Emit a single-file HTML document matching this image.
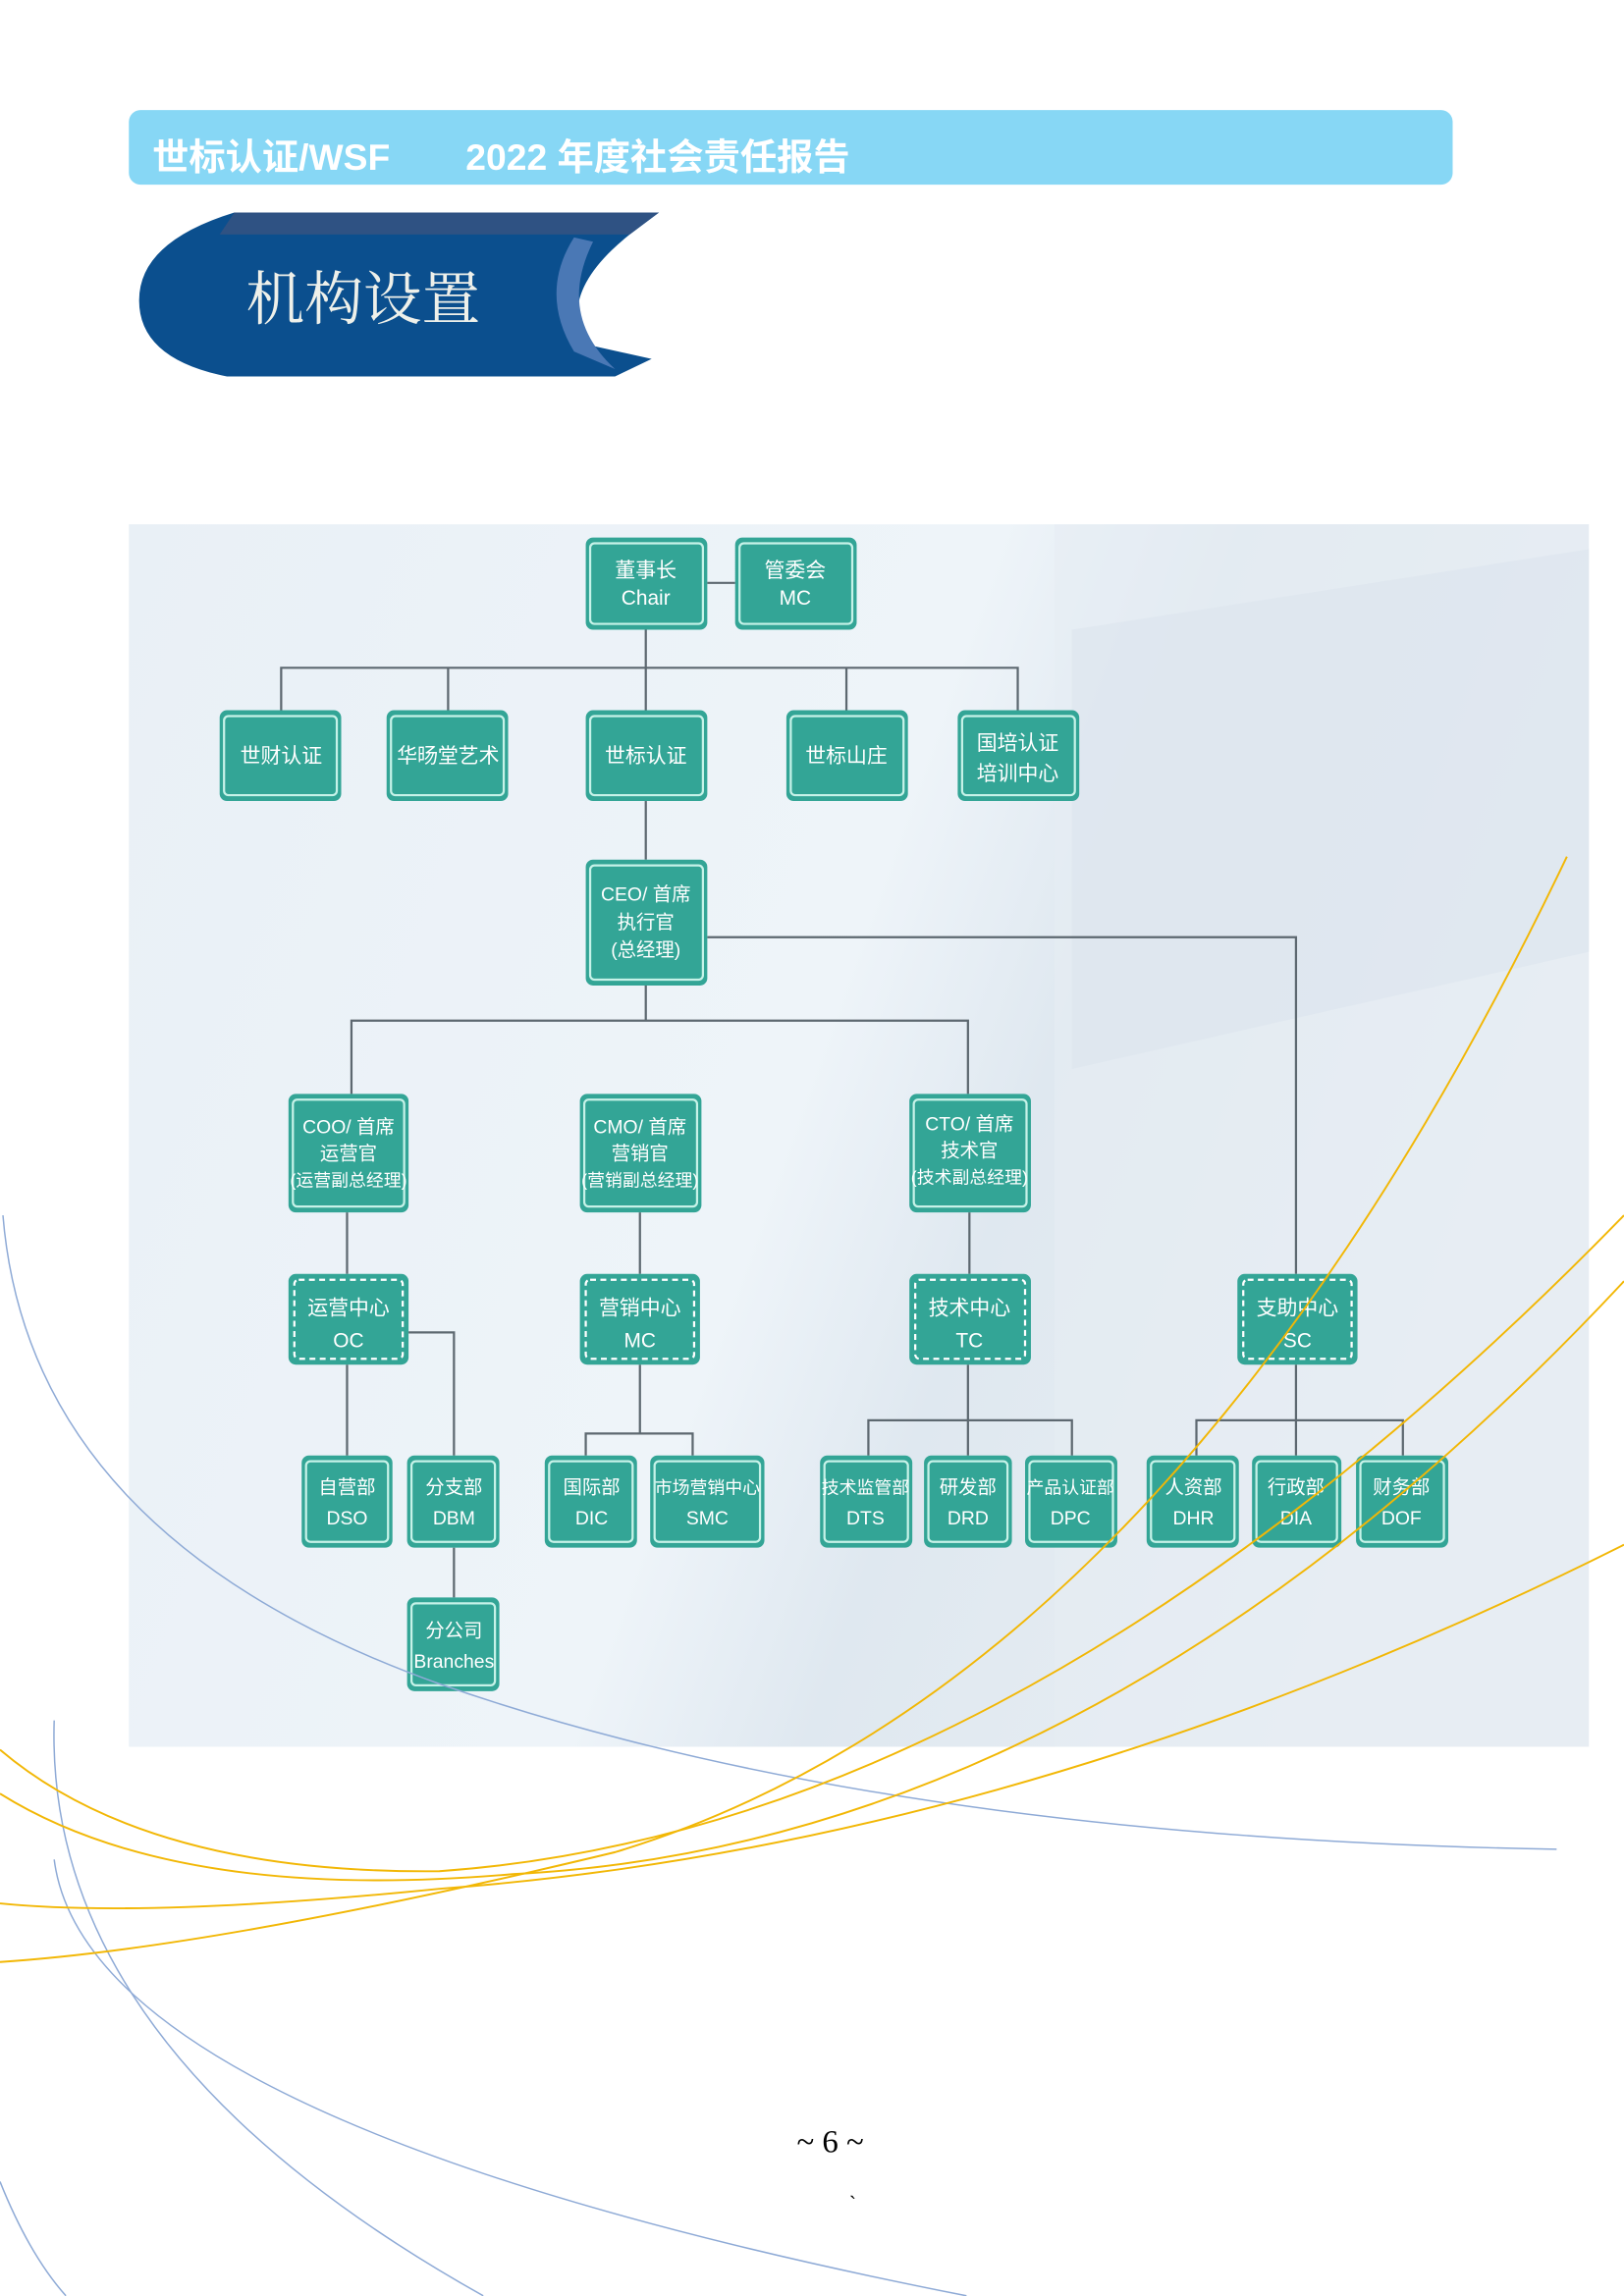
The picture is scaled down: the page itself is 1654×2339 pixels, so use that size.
<!DOCTYPE html>
<html><head><meta charset="utf-8"><style>
html,body{margin:0;padding:0;background:#fff}
svg{display:block}
text{font-family:"Liberation Sans","Noto Sans CJK SC",sans-serif}
</style></head><body>
<svg width="1654" height="2339" viewBox="0 0 1109 1568" xmlns="http://www.w3.org/2000/svg">
<defs>
<linearGradient id="bg" x1="0" y1="0" x2="1" y2="0.3">
<stop offset="0" stop-color="#e9f0f6"/><stop offset="0.55" stop-color="#eef4f9"/><stop offset="0.7" stop-color="#dfe8f0"/><stop offset="1" stop-color="#e8eef3"/>
</linearGradient>
</defs>
<rect x="88" y="75" width="904" height="51" rx="8" fill="#87d7f5"/>
<text x="104" y="116" font-size="25" font-weight="bold" fill="#fff">世标认证/WSF</text>
<text x="318" y="116" font-size="25" font-weight="bold" fill="#fff">2022 年度社会责任报告</text>
<path d="M160,145 L450,145 L430,160 Q380,200 400,235 L445,245 L420,257 L155,257 Q95,245 95,205 Q95,165 160,145 Z" fill="#0b4f8e"/>
<path d="M160,145 L450,145 L430,160 L150,160 Z" fill="#2f5283"/>
<path d="M392,162 Q368,200 392,240 L420,252 Q380,215 405,165 Z" fill="#4a78b5"/>
<text x="168" y="218" font-size="40" fill="#eef0ea" style="font-family:'Noto Serif CJK SC','Liberation Serif',serif">机构设置</text>
<rect x="88" y="358" width="997" height="835" fill="url(#bg)"/>
<rect x="720" y="358" width="365" height="835" fill="#e6edf3" opacity="0.6"/>
<polygon points="732,430 1085,375 1085,650 732,730" fill="#dde6ee" opacity="0.7"/>
<g stroke="#5d6870" stroke-width="1.5" fill="none">
<path d="M483,398 H502"/><path d="M441,430 V485"/><path d="M192,485 V456 H695 V485"/><path d="M306,456 V485"/><path d="M578,456 V485"/>
<path d="M441,547 V587"/><path d="M441,673 V697"/><path d="M240,747 V697 H661 V747"/><path d="M483,640 H885 V870"/>
<path d="M237,828 V870"/><path d="M437,828 V870"/><path d="M662,828 V870"/>
<path d="M237,932 V994"/><path d="M279,910 H310 V994"/><path d="M310,1057 V1091"/>
<path d="M437,932 V979"/><path d="M400,994 V979 H473 V994"/>
<path d="M661,932 V994"/><path d="M593,994 V970 H732 V994"/>
<path d="M885,932 V994"/><path d="M817,994 V970 H958 V994"/>
</g>
<g fill="#33a596">
<rect x="400" y="367" width="83" height="63" rx="5"/><rect x="502" y="367" width="83" height="63" rx="5"/>
<rect x="150" y="485" width="83" height="62" rx="5"/><rect x="264" y="485" width="83" height="62" rx="5"/><rect x="400" y="485" width="83" height="62" rx="5"/><rect x="537" y="485" width="83" height="62" rx="5"/><rect x="654" y="485" width="83" height="62" rx="5"/>
<rect x="400" y="587" width="83" height="86" rx="5"/>
<rect x="197" y="747" width="82" height="81" rx="5"/><rect x="396" y="747" width="83" height="81" rx="5"/><rect x="621" y="747" width="83" height="81" rx="5"/>
<rect x="197" y="870" width="82" height="62" rx="5"/><rect x="396" y="870" width="82" height="62" rx="5"/><rect x="621" y="870" width="83" height="62" rx="5"/><rect x="845" y="870" width="82" height="62" rx="5"/>
<rect x="206" y="994" width="62" height="63" rx="5"/><rect x="278" y="994" width="63" height="63" rx="5"/><rect x="372" y="994" width="63" height="63" rx="5"/><rect x="444" y="994" width="78" height="63" rx="5"/><rect x="560" y="994" width="63" height="63" rx="5"/><rect x="631" y="994" width="60" height="63" rx="5"/><rect x="700" y="994" width="63" height="63" rx="5"/><rect x="783" y="994" width="63" height="63" rx="5"/><rect x="855" y="994" width="61" height="63" rx="5"/><rect x="926" y="994" width="63" height="63" rx="5"/>
<rect x="278" y="1091" width="63" height="64" rx="5"/>
</g>
<g fill="none" stroke="#c6f2e8" stroke-width="1.5">
<rect x="403" y="371" width="77" height="55" rx="3"/><rect x="505" y="371" width="77" height="55" rx="3"/>
<rect x="153" y="489" width="77" height="54" rx="3"/><rect x="267" y="489" width="77" height="54" rx="3"/><rect x="403" y="489" width="77" height="54" rx="3"/><rect x="540" y="489" width="77" height="54" rx="3"/><rect x="657" y="489" width="77" height="54" rx="3"/>
<rect x="403" y="591" width="77" height="78" rx="3"/>
<rect x="200" y="751" width="76" height="73" rx="3"/><rect x="399" y="751" width="77" height="73" rx="3"/><rect x="624" y="751" width="77" height="73" rx="3"/>
<rect x="209" y="998" width="56" height="55" rx="3"/><rect x="281" y="998" width="57" height="55" rx="3"/><rect x="375" y="998" width="57" height="55" rx="3"/><rect x="447" y="998" width="72" height="55" rx="3"/><rect x="563" y="998" width="57" height="55" rx="3"/><rect x="634" y="998" width="54" height="55" rx="3"/><rect x="703" y="998" width="57" height="55" rx="3"/><rect x="786" y="998" width="57" height="55" rx="3"/><rect x="858" y="998" width="55" height="55" rx="3"/><rect x="929" y="998" width="57" height="55" rx="3"/>
<rect x="281" y="1095" width="57" height="56" rx="3"/>
</g>
<g fill="none" stroke="#fff" stroke-width="1.5" stroke-dasharray="4,3">
<rect x="201" y="874" width="74" height="54" rx="3"/><rect x="400" y="874" width="74" height="54" rx="3"/><rect x="625" y="874" width="75" height="54" rx="3"/><rect x="849" y="874" width="74" height="54" rx="3"/>
</g>
<g font-size="14" fill="#fff" text-anchor="middle">
<text x="441" y="394">董事长</text><text x="441" y="413">Chair</text>
<text x="543" y="394">管委会</text><text x="543" y="413">MC</text>
<text x="192" y="521">世财认证</text><text x="306" y="521">华旸堂艺术</text><text x="441" y="521">世标认证</text><text x="578" y="521">世标山庄</text>
<text x="695" y="512">国培认证</text><text x="695" y="533">培训中心</text>
<text x="441" y="615" font-size="13">CEO/ 首席</text><text x="441" y="634" font-size="13">执行官</text><text x="441" y="653" font-size="13">(总经理)</text>
<text x="238" y="774" font-size="13">COO/ 首席</text><text x="238" y="792" font-size="13">运营官</text><text x="238" y="810" font-size="12">(运营副总经理)</text>
<text x="437" y="774" font-size="13">CMO/ 首席</text><text x="437" y="792" font-size="13">营销官</text><text x="437" y="810" font-size="12">(营销副总经理)</text>
<text x="662" y="772" font-size="13">CTO/ 首席</text><text x="662" y="790" font-size="13">技术官</text><text x="662" y="808" font-size="12">(技术副总经理)</text>
<text x="238" y="898">运营中心</text><text x="238" y="920">OC</text>
<text x="437" y="898">营销中心</text><text x="437" y="920">MC</text>
<text x="662" y="898">技术中心</text><text x="662" y="920">TC</text>
<text x="886" y="898">支助中心</text><text x="886" y="920">SC</text>
<g font-size="13">
<text x="237" y="1020">自营部</text><text x="237" y="1041">DSO</text>
<text x="310" y="1020">分支部</text><text x="310" y="1041">DBM</text>
<text x="404" y="1020">国际部</text><text x="404" y="1041">DIC</text>
<text x="483" y="1020" font-size="12">市场营销中心</text><text x="483" y="1041">SMC</text>
<text x="591" y="1020" font-size="12">技术监管部</text><text x="591" y="1041">DTS</text>
<text x="661" y="1020">研发部</text><text x="661" y="1041">DRD</text>
<text x="731" y="1020" font-size="12">产品认证部</text><text x="731" y="1041">DPC</text>
<text x="815" y="1020">人资部</text><text x="815" y="1041">DHR</text>
<text x="885" y="1020">行政部</text><text x="885" y="1041">DIA</text>
<text x="957" y="1020">财务部</text><text x="957" y="1041">DOF</text>
<text x="310" y="1118">分公司</text><text x="310" y="1139">Branches</text>
</g>
</g>
<g fill="none" stroke="#8eaad6" stroke-width="1">
<path d="M2,830 Q20,1050 300,1150 Q600,1255 1063,1263"/>
<path d="M37,1175 Q30,1400 330,1568"/>
<path d="M37,1270 Q60,1450 660,1568"/>
<path d="M0,1490 Q20,1540 45,1568"/>
</g>
<g fill="none" stroke="#f2b705" stroke-width="1.3">
<path d="M1070,585 Q800,1150 420,1265 Q150,1330 0,1340"/>
<path d="M1109,830 Q700,1250 300,1278 Q100,1280 0,1195"/>
<path d="M1109,875 Q750,1260 350,1280 Q120,1300 0,1225"/>
<path d="M1109,1055 Q700,1260 300,1290 Q100,1310 0,1300"/>
</g>
<text x="567" y="1470" font-size="22" text-anchor="middle" fill="#000" style="font-family:'Liberation Serif',serif">~ 6 ~</text>
<text x="580" y="1510" font-size="14" fill="#000">`</text>
</svg>
</body></html>
